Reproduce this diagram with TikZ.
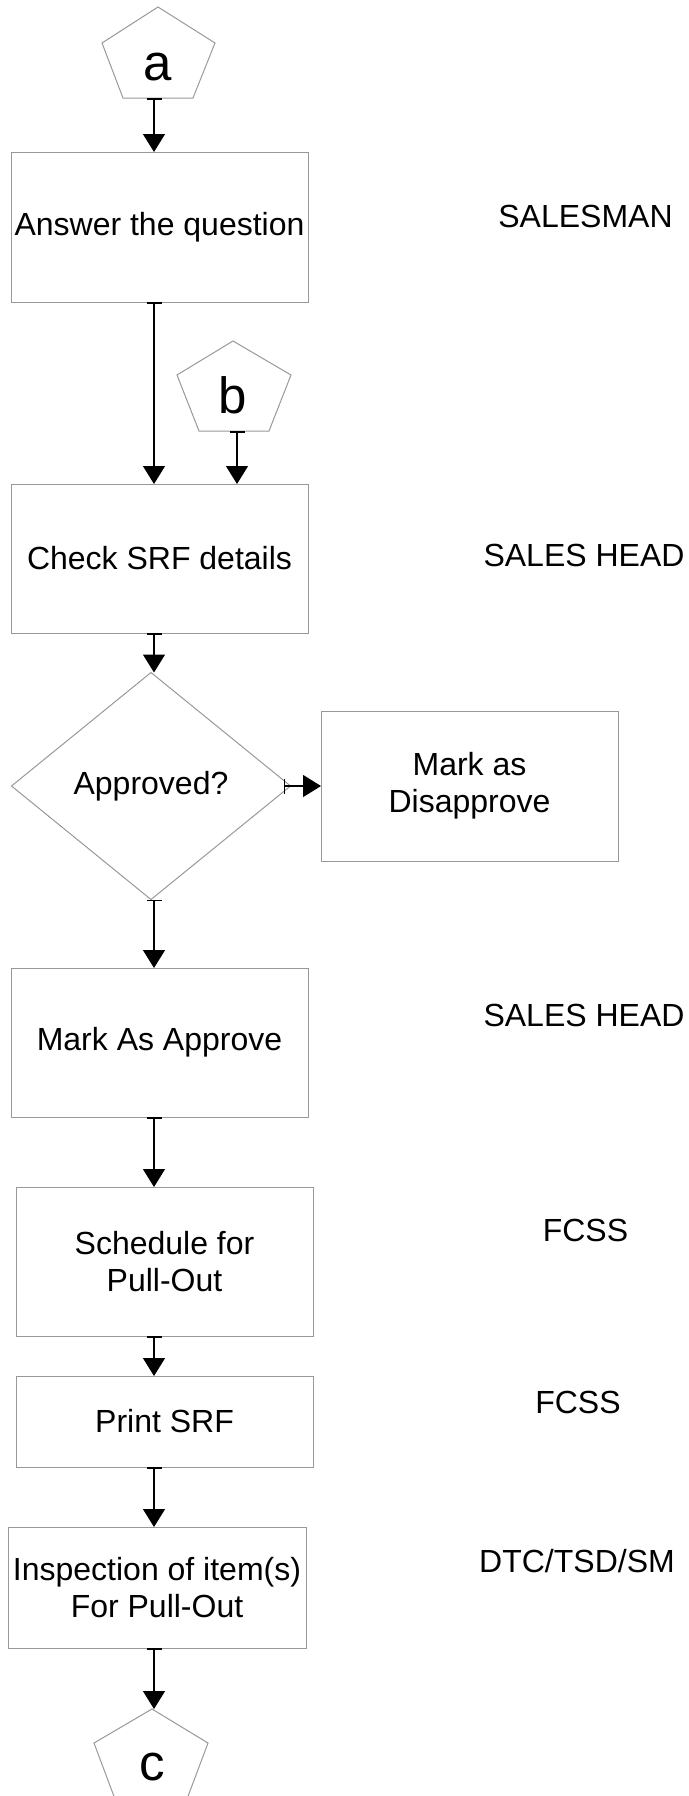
\documentclass[tikz,border=0pt]{standalone}
\usepackage{fontspec}
\setmainfont{Liberation Sans}
\usetikzlibrary{arrows.meta,shapes.geometric}
\definecolor{shapegray}{HTML}{999999}
\tikzset{
  box/.style={draw=shapegray, line width=1pt, fill=white, minimum width=297pt, inner sep=0pt, outer sep=0pt, align=center, font=\fontsize{32}{37}\selectfont},
  shp/.style={draw=shapegray, line width=1pt},
  conn/.style={line width=1.3pt, black, {Bar[width=15pt,line width=1.8pt]}-{Triangle[length=18pt,width=22pt]}},
  role/.style={anchor=base, inner sep=0pt, font=\fontsize{32}{37}\selectfont},
  letter/.style={anchor=base, inner sep=0pt, font=\fontsize{51}{53}\selectfont}
}
\begin{document}
\begin{tikzpicture}[x=1pt,y=-1pt]
\useasboundingbox[fill=white] (0,0) rectangle (688,1796);
% pentagon a
\draw[shp] (158,7) -- (215,43) -- (193,98) -- (123,98) -- (102,43) -- cycle;
\node[letter] (a) at (158,80) {a};
\coordinate (aout) at (154,98);
% pentagon b
\draw[shp] (233,341) -- (291,375) -- (269,431) -- (199,431) -- (177,375) -- cycle;
\node[letter] (b) at (233,413) {b};
\coordinate (bout) at (237,431);
% boxes
\node[box, minimum height=150pt] (n1) at (159.5,227) {Answer the question};
\node[box, minimum height=149pt] (n2) at (159.5,558.5) {Check SRF details};
\node[draw=shapegray, line width=1pt, diamond, minimum width=279pt, minimum height=227pt, aspect=1.23, inner sep=0pt, outer sep=0pt, font=\fontsize{32}{37}\selectfont] (d) at (151,786) {Approved?};
\node[box, minimum height=150pt] (n3) at (469.5,786) {Mark as\\Disapprove};
\node[box, minimum height=149pt] (n4) at (159.5,1042.5) {Mark As Approve};
\node[box, minimum height=149pt] (n5) at (164.5,1261.5) {Schedule for\\Pull-Out};
\node[box, minimum height=91pt] (n6) at (164.5,1421.5) {Print SRF};
\node[box, minimum height=121pt, minimum width=298pt] (n7) at (157,1587.5) {Inspection of item(s)\\For Pull-Out};
% pentagon c
\draw[shp] (152,1709) -- (208,1743) -- (187,1799) -- (115,1799) -- (94,1743) -- cycle;
\node[letter] (c) at (152,1780) {c};
\coordinate (cin) at (154,1709);
% role labels
\node[role] (r1) at (585.5,227) {SALESMAN};
\node[role] (r2) at (584,566.5) {SALES HEAD};
\node[role] (r3) at (584,1026.5) {SALES HEAD};
\node[role] (r4) at (585.5,1241.5) {FCSS};
\node[role] (r5) at (578,1413) {FCSS};
\node[role] (r6) at (577,1572) {DTC/TSD/SM};
% connectors
\draw[conn] (aout) -- (n1.north -| aout);
\draw[conn] (n1.south -| aout) -- (n2.north -| aout);
\draw[conn] (bout) -- (n2.north -| bout);
\draw[conn] (n2.south -| aout) -- (d.north -| aout);
\draw[conn] ([xshift=-7pt]d.east) -- (n3.west);
\draw[conn] (d.south -| aout) -- (n4.north -| aout);
\draw[conn] (n4.south -| aout) -- (n5.north -| aout);
\draw[conn] (n5.south -| aout) -- (n6.north -| aout);
\draw[conn] (n6.south -| aout) -- (n7.north -| aout);
\draw[conn] (n7.south -| aout) -- (cin);
\end{tikzpicture}
\end{document}
